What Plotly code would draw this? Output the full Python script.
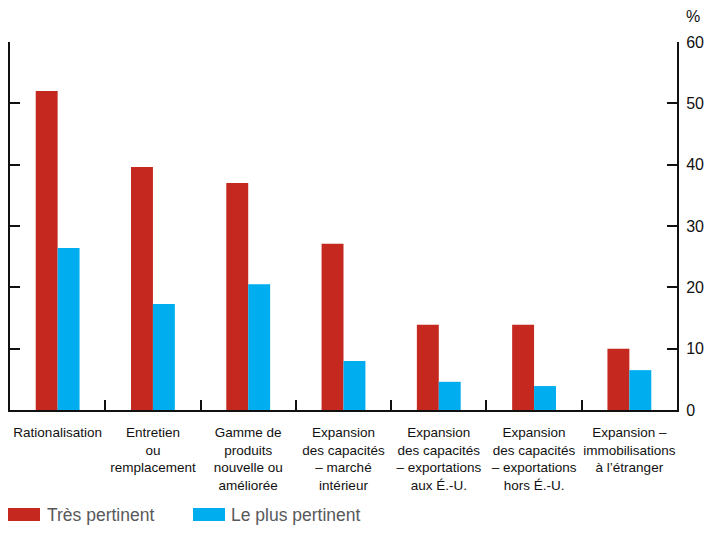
import plotly.graph_objects as go

categories = [
    "Rationalisation",
    "Entretien<br>ou<br>remplacement",
    "Gamme de<br>produits<br>nouvelle ou<br>améliorée",
    "Expansion<br>des capacités<br>– marché<br>intérieur",
    "Expansion<br>des capacités<br>– exportations<br>aux É.-U.",
    "Expansion<br>des capacités<br>– exportations<br>hors É.-U.",
    "Expansion –<br>immobilisations<br>à l’étranger",
]
tres_pertinent = [52.0, 39.6, 37.0, 27.1, 13.9, 13.9, 10.0]
le_plus_pertinent = [26.4, 17.3, 20.5, 8.0, 4.6, 3.9, 6.5]
y_ticks = [0, 10, 20, 30, 40, 50, 60]

RED = "#c4281f"
BLUE = "#00adef"
FONT = "Liberation Sans, Arial, sans-serif"

# page has an 8px body margin; figure drawn at (8, 8) and must fit in 713x533
OFF = 8
W, H = 713 - 2 * OFF, 533 - 2 * OFF
L, R, T, B = 10 - OFF, 705 - 677, 42 - OFF, 525 - 410
pw, ph = W - L - R, H - T - B

def px(x):
    return (x - OFF - L) / pw

def py(y):
    return (H - B - (y - OFF)) / ph

fig = go.Figure()
fig.add_trace(go.Bar(x=categories, y=tres_pertinent, name="Très pertinent",
                     marker=dict(color=RED, line=dict(width=0)), showlegend=False))
fig.add_trace(go.Bar(x=categories, y=le_plus_pertinent, name="Le plus pertinent",
                     marker=dict(color=BLUE, line=dict(width=0)), showlegend=False))

shapes = [
    dict(type="rect", xref="paper", yref="paper", x0=px(8), x1=px(40), y0=py(521), y1=py(508),
         fillcolor=RED, line=dict(width=0)),
    dict(type="rect", xref="paper", yref="paper", x0=px(193), x1=px(225), y0=py(521), y1=py(508),
         fillcolor=BLUE, line=dict(width=0)),
]
annotations = [
    dict(text="Très pertinent", xref="paper", yref="paper", x=px(45), y=py(514.5),
         xanchor="left", yanchor="middle", showarrow=False,
         font=dict(family=FONT, size=17.5, color="#58595b")),
    dict(text="Le plus pertinent", xref="paper", yref="paper", x=px(229), y=py(514.5),
         xanchor="left", yanchor="middle", showarrow=False,
         font=dict(family=FONT, size=17.5, color="#58595b")),
    dict(text="%", xref="paper", yref="paper", x=px(702), y=py(16),
         xanchor="right", yanchor="middle", showarrow=False,
         font=dict(family=FONT, size=16, color="#111")),
]

fig.update_layout(
    width=W, height=H,
    margin=dict(l=L, r=R, t=T, b=B, pad=0, autoexpand=False),
    paper_bgcolor="white", plot_bgcolor="white",
    barmode="group", bargap=0.54, bargroupgap=0,
    font=dict(family=FONT, size=14, color="#111"),
    shapes=shapes, annotations=annotations,
    xaxis=dict(showline=True, linecolor="#111", linewidth=2, ticks="inside",
               tickson="boundaries", ticklen=10, tickwidth=2, tickcolor="#111",
               showgrid=False, tickangle=0, automargin=False, ticklabelstandoff=9,
               tickfont=dict(family=FONT, size=13.5, color="#111"),
               fixedrange=True),
    yaxis=dict(side="right", range=[0, 60], tickvals=y_ticks, showline=True,
               linecolor="#111", linewidth=2, mirror="ticks", ticks="inside",
               ticklen=10, tickwidth=2, tickcolor="#111", showgrid=False,
               zeroline=False, ticklabelstandoff=4, automargin=False,
               tickfont=dict(family=FONT, size=16, color="#111")),
)

fig.write_html("out.html")
